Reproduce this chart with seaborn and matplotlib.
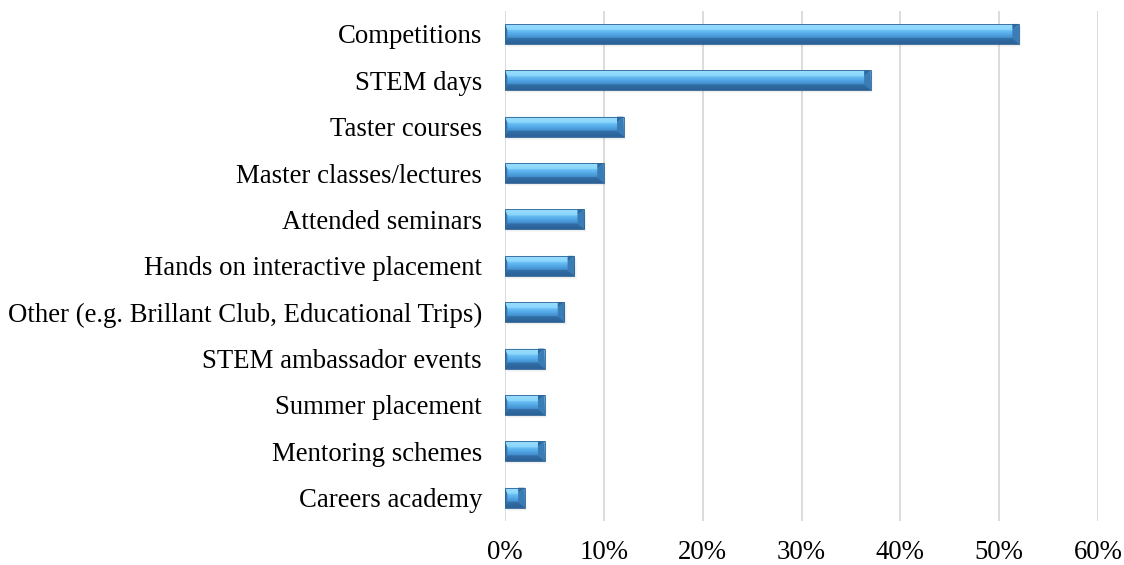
import numpy as np
import pandas as pd
import matplotlib
matplotlib.use("Agg")
import matplotlib.pyplot as plt
import seaborn as sns
from matplotlib.patches import Polygon, Rectangle
from matplotlib.ticker import FuncFormatter

categories = [
    "Competitions",
    "STEM days",
    "Taster courses",
    "Master classes/lectures",
    "Attended seminars",
    "Hands on interactive placement",
    "Other (e.g. Brillant Club, Educational Trips)",
    "STEM ambassador events",
    "Summer placement",
    "Mentoring schemes",
    "Careers academy",
]
percent = [52, 37, 12, 10, 8, 7, 6, 4, 4, 4, 2]
x_ticks = [0, 10, 20, 30, 40, 50, 60]

df = pd.DataFrame({"activity": categories, "percent": percent})

sns.set_style("white")
plt.rcParams["font.family"] = ["Liberation Serif", "DejaVu Serif"]

fig = plt.figure(figsize=(11.24, 5.65), dpi=100)
ax = fig.add_axes([0.4493, 0.078, 0.5276, 0.903])

sns.barplot(data=df, x="percent", y="activity", orient="h", color="#56aeea",
            width=0.43, saturation=1, ax=ax, zorder=3)

ax.set_xlim(0, 60)
ax.set_ylim(len(categories) - 0.5, -0.5)
ax.set_xticks(x_ticks)
ax.xaxis.set_major_formatter(FuncFormatter(lambda v, p: f"{v:.0f}%"))
ax.grid(axis="x", color="#d9d9d9", linewidth=1.3, zorder=0)
ax.grid(axis="y", visible=False)
for s in ax.spines.values():
    s.set_visible(False)
ax.tick_params(axis="both", length=0, labelsize=19.3, colors="black")
ax.tick_params(axis="y", pad=16.5)
ax.tick_params(axis="x", pad=13.5)
ax.set_xlabel("")
ax.set_ylabel("")
ax.autoscale(False)

# bevel and shadow on each bar
fig.canvas.draw()
o = ax.transData.transform((0, 0))
px_per_x = ax.transData.transform((1, 0))[0] - o[0]
px_per_y = o[1] - ax.transData.transform((0, 1))[1]
bars = list(ax.patches)
grad = np.linspace(0, 1, 64).reshape(-1, 1)
cmap = matplotlib.colors.LinearSegmentedColormap.from_list(
    "bev", ["#8ad7fd", "#7ccffb", "#5fb5ef", "#4a9ad9", "#3b80bf", "#2f6aa2"])
for b in bars:
    x0, y0 = b.get_x(), b.get_y()
    w, h = b.get_width(), b.get_height()
    x1, y1 = x0 + w, y0 + h
    h_px = h * px_per_y
    bx = min(0.33 * h_px / px_per_x, w / 2.2)
    bl = 0.35 * bx
    by = 0.3 * h
    # shadow
    for k, a in [(3, 0.05), (2, 0.07), (1, 0.09)]:
        ax.add_patch(Rectangle((x0 + 0.8 * k / px_per_x, y0 + 1.0 * k / px_per_y), w, h,
                               facecolor="#7a7a7a", alpha=a, linewidth=0, zorder=2))
    b.set_visible(False)
    im = ax.imshow(grad, cmap=cmap, aspect="auto", extent=(x0, x1, y1, y0),
                   zorder=3, interpolation="bilinear")
    im.set_clip_path(Rectangle((x0, y0), w, h, transform=ax.transData))
    # top highlight bevel
    ax.add_patch(Polygon([(x0, y0), (x1, y0), (x1 - bx, y0 + by), (x0 + bl, y0 + by)],
                         facecolor="#a4e3ff", alpha=0.5, linewidth=0, zorder=4))
    # bottom dark bevel
    ax.add_patch(Polygon([(x0, y1), (x1, y1), (x1 - bx, y1 - by), (x0 + bl, y1 - by)],
                         facecolor="#27598a", alpha=0.55, linewidth=0, zorder=4))
    # right end bevel
    ax.add_patch(Polygon([(x1, y0), (x1, y1), (x1 - bx, y1 - by), (x1 - bx, y0 + by)],
                         facecolor="#3a7cb6", linewidth=0, zorder=4))
    ax.add_patch(Polygon([(x1, y0), (x1 - bx, y0 + by), (x1 - bx, y0)],
                         facecolor="#2d6aa0", linewidth=0, zorder=4))
    # left end bevel
    ax.add_patch(Polygon([(x0, y0), (x0, y1), (x0 + bl, y1 - by), (x0 + bl, y0 + by)],
                         facecolor="#3576b2", linewidth=0, zorder=4))
    ax.add_patch(Rectangle((x0, y0), w, h, facecolor="none", edgecolor="#2d6295",
                           linewidth=0.6, zorder=5))

ax.set_xlim(0, 60)
ax.set_ylim(len(categories) - 0.5, -0.5)

fig.savefig("out.png", dpi=100)
